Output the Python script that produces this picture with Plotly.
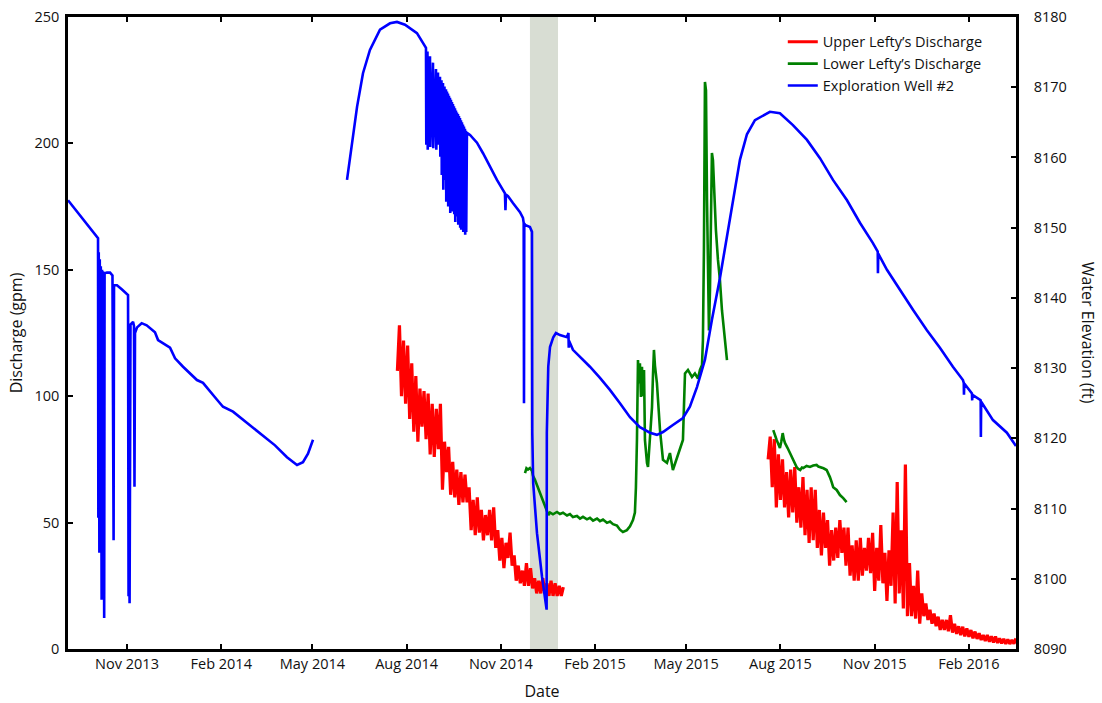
import pandas as pd
import plotly.graph_objects as go

# ---------------- data ----------------
BASE = pd.Timestamp("2013-11-01")  # day 0 for the well record below

# Exploration Well #2 water elevation (ft); time given as days since BASE
well_days_1 = [-57.6, -28.3, -28.0, -27.6, -27.0, -26.6, -26.0, -25.6, -24.8, -24.4, -23.8, -23.4,
               -22.3, -21.9, -19.5, -16.6, -14.2, -13.9, -13.5, -13.1, -12.7, -9.8, -4.9, -1.0,
               1.0, 1.5, 2.0, 2.5, 3.4, 5.9, 6.8, 7.3, 7.8, 9.8, 14.3, 19.2, 27.3, 30.3, 42.0,
               46.9, 54.7, 68.3, 74.2, 87.9, 93.7, 103.5, 117.2, 129.8, 144.5, 156.2, 166.0,
               171.8, 176.7, 181.6]
well_elev_1 = [8153.9, 8148.5, 8108.7, 8146.5, 8103.7, 8145.5, 8112.0, 8144.5, 8097.0, 8144.0,
               8104.0, 8143.8, 8094.4, 8143.5, 8143.6, 8143.6, 8143.2, 8114.0, 8140.0, 8105.5,
               8141.8, 8141.8, 8141.2, 8140.7, 8140.4, 8097.5, 8110.0, 8096.5, 8136.2, 8136.6,
               8136.0, 8113.1, 8135.0, 8135.8, 8136.4, 8136.1, 8135.1, 8134.0, 8132.9, 8131.4,
               8130.2, 8128.3, 8127.9, 8125.5, 8124.5, 8123.8, 8122.2, 8120.8, 8119.0, 8117.3,
               8116.2, 8116.6, 8117.8, 8119.8]

well_days_2 = [214.8, 219.7, 224.6, 230.4, 237.2, 247.0, 256.8, 263.6, 271.4, 283.1, 290.9,
               291.91, 292.2, 293.37, 293.6, 295.81, 296.1, 298.74, 299.0, 301.67, 302.0,
               303.62, 303.9, 305.58, 305.9, 307.04, 307.3, 308.50, 308.8, 309.97, 310.2,
               311.43, 311.7, 312.41, 312.7, 313.39, 313.6, 314.36, 314.6, 315.34, 315.6,
               316.31, 316.6, 317.29, 317.5, 318.27, 318.5, 319.24, 319.5, 320.22, 320.5,
               321.20, 321.4, 322.17, 322.4, 323.15, 323.4, 324.12, 324.4, 325.10, 325.3,
               326.08, 326.3, 327.05, 327.3, 328.03, 328.3, 329.01, 329.2, 329.98, 330.2,
               330.96, 331.2,
               331.9, 334.9, 341.7, 347.6, 354.4, 361.2, 369.0, 369.5, 370.0, 372.0, 376.8,
               383.7, 386.6, 387.3, 387.6, 387.9, 388.6, 393.4, 395.4, 395.7, 396.6, 400.3,
               405.2, 409.7, 409.9, 411.3, 413.0, 416.2, 418.8, 422.7, 429.6, 431.0, 431.3,
               431.6, 435.4, 442.3, 449.1, 452.0, 461.8, 471.5, 481.3, 491.1, 500.8, 510.6,
               517.4, 523.3, 533.0, 542.8, 549.6, 556.5, 564.3, 571.1, 578.9, 586.7, 593.6,
               598.5, 605.3, 613.1, 627.7, 637.5, 650.2, 663.9, 676.6, 689.3, 703.0, 715.6,
               728.3, 733.0, 733.2, 733.5, 742.0, 754.7, 767.4, 781.0, 793.7, 806.4, 816.2,
               817.0, 817.2, 817.5, 825.0, 825.2, 825.5, 832.8, 833.5, 833.7, 834.0, 845.5,
               859.1, 868.0]
well_elev_2 = [8156.8, 8162.1, 8167.2, 8172.0, 8175.3, 8178.2, 8179.1, 8179.3, 8178.9, 8177.7, 8176.0,
               8175.6, 8161.8, 8175.1, 8161.1, 8174.4, 8161.5, 8173.5, 8161.3, 8172.6, 8161.1,
               8172.1, 8161.8, 8171.5, 8160.1, 8171.0, 8157.5, 8170.6, 8155.4, 8170.1, 8156.8,
               8169.7, 8153.7, 8169.4, 8154.4, 8169.1, 8153.0, 8168.8, 8155.4, 8168.5, 8152.1,
               8168.2, 8153.7, 8167.9, 8152.3, 8167.6, 8154.4, 8167.3, 8151.9, 8167.0, 8150.8,
               8166.7, 8153.0, 8166.4, 8151.6, 8166.2, 8150.4, 8165.9, 8152.3, 8165.6, 8150.0,
               8165.3, 8149.7, 8165.0, 8150.8, 8164.7, 8149.4, 8164.4, 8150.4, 8164.1, 8149.0,
               8163.8, 8149.4,
               8163.5, 8163.2, 8162.1, 8160.6, 8158.6, 8156.8, 8154.9, 8152.5, 8154.7, 8154.5, 8153.5,
               8152.2, 8151.4, 8150.7, 8125.0, 8150.6, 8150.4, 8150.1, 8149.4, 8120.8, 8113.6, 8106.5,
               8100.3, 8095.6, 8120.8, 8130.2, 8133.0, 8134.4, 8135.0, 8134.7, 8134.4, 8135.0, 8132.9,
               8133.9, 8132.6, 8131.6, 8130.7, 8130.2, 8128.6, 8126.9, 8125.0, 8123.0, 8121.6, 8120.8,
               8120.5, 8120.9, 8121.9, 8122.9, 8124.5, 8127.3, 8131.2, 8136.9, 8142.8, 8149.7, 8155.7,
               8159.7, 8163.3, 8165.3, 8166.5, 8166.3, 8164.6, 8162.5, 8159.9, 8156.8, 8153.9, 8150.7,
               8147.8, 8146.6, 8143.5, 8146.3, 8144.0, 8141.1, 8138.3, 8135.4, 8132.9, 8130.2, 8128.3,
               8127.9, 8126.2, 8127.8, 8126.4, 8125.4, 8126.2, 8125.5, 8125.4, 8120.2, 8125.2, 8122.6,
               8120.8, 8118.9]

# Upper Lefty's discharge (gpm), sampled every 2 days
upper_start_1 = "2014-07-23"
upper_gpm_1 = [110, 128, 100, 122, 97, 120, 91, 113, 86, 108, 82, 103, 88, 102, 83, 101, 77, 97, 76, 95,
               79, 97, 63, 82, 70, 80, 61, 74, 60, 71, 57, 70, 58, 69, 58, 64, 47, 59, 45, 60,
               46, 55, 43, 53, 45, 55, 43, 56, 40, 47, 35, 44, 32, 42, 36, 46, 33, 37, 27, 33,
               26, 31, 25, 34, 25, 32, 24, 28, 22, 27, 22, 28, 22, 26, 21, 27, 21, 26, 21, 25,
               21, 24.5]
upper_start_2 = "2015-07-20"
upper_gpm_2 = [75, 84, 64, 83, 56, 77, 59, 75, 56, 70, 52, 71, 54, 72, 50, 64, 48, 68, 45, 63,
               42, 64, 43, 63, 40, 55, 37, 54, 40, 51, 33, 47, 35, 48, 36, 51, 38, 48, 33, 48,
               29, 41, 27, 43, 27, 44, 29, 40, 31, 44, 30, 46, 23, 40, 27, 49, 26, 38, 19, 39,
               25, 54, 18, 66, 22, 47, 16, 73, 13, 34, 13, 25, 12, 31, 10, 22, 13, 18, 11.5, 15.5,
               10, 14, 9, 12.8, 7.5, 11.5, 7.5, 11.5, 7, 13.4, 6.5, 10, 6, 9, 5.5, 8.8, 5, 8.2, 4.8, 7.5,
               4.2, 6.9, 4, 6.2, 3.6, 5.5, 3.2, 5.5, 2.9, 5, 2.6, 4.9, 2.4, 4.2, 2.2, 4, 2, 3.8, 2, 3.6,
               2.1, 4.2]

# Lower Lefty's discharge (gpm); time given as days since BASE
lower_days_1 = [388.6, 390.0, 391.5, 393.4, 395.4, 396.4, 398.3, 400.0, 403.2, 406.1, 408.1, 410.0,
                411.5, 413.0, 415.9, 419.8, 422.7, 425.7, 429.6, 432.5, 435.4, 439.3, 442.3, 445.2,
                449.1, 452.0, 455.0, 458.9, 461.8, 464.7, 468.6, 471.6, 474.5, 478.4, 481.3, 484.2,
                488.1, 491.1, 494.0, 495.9, 496.9, 497.9, 498.9, 499.9, 500.8, 501.8, 502.8, 503.8,
                504.8, 505.7, 506.7, 507.7, 508.7, 510.6, 512.6, 513.6, 514.5, 515.5, 517.4, 520.4,
                523.3, 527.2, 530.1, 533.0, 537.0, 539.9, 542.8, 543.8, 544.8, 547.7, 551.6, 554.5,
                557.5, 559.4, 561.4, 562.3, 563.3, 564.3, 565.3, 566.3, 567.2, 568.2, 569.2, 570.2,
                571.1, 572.1, 573.1, 575.0, 577.0, 578.9, 580.9, 582.8, 584.8, 585.8]
lower_gpm_1 = [69.6, 71.5, 71.0, 71.6, 70.5, 68.5, 66.9, 65.0, 61.7, 58.5, 56.2, 54.5,
               53.0, 54.0, 53.3, 54.2, 53.4, 53.9, 52.8, 53.4, 52.2, 52.6, 51.6, 52.3,
               51.3, 51.9, 50.8, 51.6, 50.6, 51.2, 49.9, 50.4, 49.4, 48.8, 47.2, 46.3,
               47.0, 48.5, 51.0, 54.0, 64.0, 82.7, 114.3, 105.0, 113.0, 99.7, 111.6, 100.0,
               110.4, 82.7, 76.0, 73.6, 72.0, 84.0, 95.7, 109.0, 118.3, 112.0, 105.2, 86.6,
               74.8, 73.6, 77.5, 70.8, 76.0, 79.9, 82.7, 96.0, 109.0, 110.4, 107.6, 109.0,
               107.0, 110.4, 112.3, 122.0, 158.0, 224.3, 221.0, 177.6, 138.0, 126.0, 142.0, 177.6,
               196.2, 193.4, 181.6, 165.7, 153.9, 146.0, 134.0, 126.2, 118.3, 114.3]
lower_days_2 = [631.0, 632.5, 634.3, 636.0, 637.5, 638.8, 640.2, 641.3, 642.4, 645.0, 647.3, 649.0,
                650.5, 652.0, 653.8, 655.5, 657.3, 659.0, 660.3, 663.5, 666.8, 670.0, 673.3, 675.0,
                676.6, 680.0, 683.1, 684.7, 686.3, 688.0, 689.5, 692.9, 696.1, 699.3, 702.6]
lower_gpm_2 = [86.6, 84.5, 82.7, 81.0, 79.5, 82.0, 85.4, 83.0, 81.5, 79.5, 77.5, 76.5,
               74.8, 73.8, 72.0, 71.2, 70.8, 71.8, 71.6, 72.4, 72.0, 72.6, 72.8, 72.2,
               72.0, 71.5, 70.8, 69.5, 68.0, 66.0, 64.0, 62.9, 60.9, 59.7, 58.1]

shade_start = "2014-11-29 10:00"
shade_end = "2014-12-26 20:00"

x_start = "2013-09-04 09:00"
x_end = "2016-03-18"

tick_dates = ["2013-11-01", "2014-02-01", "2014-05-01", "2014-08-01", "2014-11-01",
              "2015-02-01", "2015-05-01", "2015-08-01", "2015-11-01", "2016-02-01"]
tick_labels = ["Nov 2013", "Feb 2014", "May 2014", "Aug 2014", "Nov 2014",
               "Feb 2015", "May 2015", "Aug 2015", "Nov 2015", "Feb 2016"]

assert len(well_days_1) == len(well_elev_1)
assert len(well_days_2) == len(well_elev_2)
assert len(lower_days_1) == len(lower_gpm_1)
assert len(lower_days_2) == len(lower_gpm_2)


def to_dates(days):
    return [(BASE + pd.Timedelta(days=d)).strftime("%Y-%m-%d %H:%M:%S") for d in days]


def sampled(start, n):
    return [d.strftime("%Y-%m-%d") for d in pd.date_range(start, periods=n, freq="2D")]


upper_x = sampled(upper_start_1, len(upper_gpm_1)) + [None] + sampled(upper_start_2, len(upper_gpm_2))
upper_y = upper_gpm_1 + [None] + upper_gpm_2
lower_x = to_dates(lower_days_1) + [None] + to_dates(lower_days_2)
lower_y = lower_gpm_1 + [None] + lower_gpm_2
well_x = to_dates(well_days_1) + [None] + to_dates(well_days_2)
well_y = well_elev_1 + [None] + well_elev_2

FONT = "Open Sans"

fig = go.Figure()
fig.add_trace(go.Scatter(x=upper_x, y=upper_y, mode="lines", name="Upper Lefty’s Discharge",
                         line=dict(color="#ff0000", width=3.2), connectgaps=False, yaxis="y"))
fig.add_trace(go.Scatter(x=lower_x, y=lower_y, mode="lines", name="Lower Lefty’s Discharge",
                         line=dict(color="#008000", width=2.6), connectgaps=False, yaxis="y"))
fig.add_trace(go.Scatter(x=well_x, y=well_y, mode="lines", name="Exploration Well #2",
                         line=dict(color="#0000ff", width=2.6), connectgaps=False, yaxis="y2"))

fig.add_shape(type="rect", xref="x", yref="paper", x0=shade_start, x1=shade_end, y0=0, y1=1,
              fillcolor="rgb(216,221,211)", line=dict(width=0), layer="below")

fig.add_annotation(text="Water Elevation (ft)", xref="paper", yref="paper", x=1.09, y=0.5,
                   textangle=90, showarrow=False, font=dict(family=FONT, size=16, color="#111"))

fig.update_layout(
    width=1102, height=703,
    margin=dict(l=68, r=86, t=17, b=54),
    plot_bgcolor="white", paper_bgcolor="white",
    font=dict(family=FONT, size=14.5, color="#111"),
    showlegend=True,
    legend=dict(x=0.754, y=0.986, xanchor="left", yanchor="top", bgcolor="rgba(0,0,0,0)",
                font=dict(family=FONT, size=14.5, color="#111"), tracegroupgap=0),
    xaxis=dict(range=[x_start, x_end], tickvals=tick_dates, ticktext=tick_labels,
               showline=True, linecolor="black", linewidth=2.5, mirror="ticks",
               ticks="inside", ticklen=5, tickwidth=1.5, tickcolor="black",
               showgrid=False, zeroline=False, automargin=False,
               title=dict(text="Date", font=dict(family=FONT, size=16), standoff=14)),
    yaxis=dict(range=[0, 250], tickvals=[0, 50, 100, 150, 200, 250],
               showline=True, linecolor="black", linewidth=2.5,
               ticks="inside", ticklen=5, tickwidth=1.5, tickcolor="black",
               ticklabelstandoff=3, automargin=False,
               showgrid=False, zeroline=False,
               title=dict(text="Discharge (gpm)", font=dict(family=FONT, size=16), standoff=8)),
    yaxis2=dict(range=[8090, 8180], tickvals=[8090, 8100, 8110, 8120, 8130, 8140, 8150, 8160, 8170, 8180],
                overlaying="y", side="right",
                showline=True, linecolor="black", linewidth=2.5,
                ticks="inside", ticklen=5, tickwidth=1.5, tickcolor="black",
                ticklabelstandoff=12, automargin=False,
                showgrid=False, zeroline=False),
)

fig.write_html("out.html")
